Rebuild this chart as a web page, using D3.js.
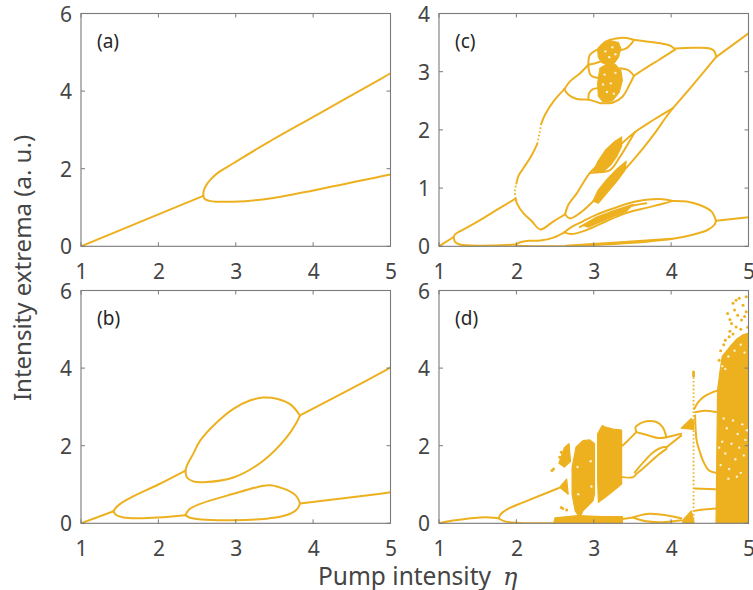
<!DOCTYPE html>
<html>
<head>
<meta charset="utf-8">
<script src="https://cdn.jsdelivr.net/npm/d3@7"></script>
<style>
  html, body { margin: 0; padding: 0; background: #fff; }
  svg { display: block; }
</style>
</head>
<body>
<svg id="fig" width="753" height="590"></svg>
<script>
// ---------- axis values ----------
const etaTicks = [1, 2, 3, 4, 5];
const yTicksSix = [0, 2, 4, 6];
const yTicksFour = [0, 1, 2, 3, 4];
const panelTags = ["(a)", "(b)", "(c)", "(d)"];

// ---------- (a) period-one then period-two ----------
const aBranches = [
  [[1.00, 0.00], [2.58, 1.30]],
  [[2.58, 1.30], [2.585, 1.42], [2.62, 1.58], [2.68, 1.73], [2.76, 1.88], [2.97, 2.14], [3.40, 2.66], [4.05, 3.39], [4.87, 4.31], [5.00, 4.46]],
  [[2.58, 1.30], [2.60, 1.22], [2.66, 1.17], [2.76, 1.15], [2.97, 1.15], [3.40, 1.22], [4.05, 1.46], [4.87, 1.80], [5.00, 1.85]]
];

// ---------- (b) doubling cascade and merging ----------
const bBranches = [
  [[1.00, 0.00], [1.42, 0.31]],
  [[1.42, 0.31], [1.45, 0.40], [1.52, 0.52], [1.65, 0.67], [2.00, 1.00], [2.35, 1.36]],
  [[1.42, 0.31], [1.45, 0.22], [1.55, 0.15], [1.75, 0.13], [2.00, 0.15], [2.35, 0.21]],
  [[2.35, 1.36], [2.37, 1.49], [2.45, 1.79], [2.54, 2.13], [2.76, 2.61], [2.97, 2.95], [3.19, 3.17], [3.36, 3.24], [3.53, 3.21], [3.71, 3.06], [3.83, 2.78]],
  [[2.35, 1.36], [2.37, 1.18], [2.45, 1.08], [2.58, 1.06], [2.97, 1.18], [3.36, 1.62], [3.66, 2.22], [3.79, 2.61], [3.83, 2.78]],
  [[3.83, 2.78], [4.87, 3.87], [5.00, 4.02]],
  [[2.35, 0.21], [2.40, 0.36], [2.54, 0.50], [2.97, 0.76], [3.36, 0.97], [3.45, 0.98], [3.53, 0.95], [3.66, 0.86], [3.75, 0.76], [3.80, 0.65], [3.83, 0.51]],
  [[2.35, 0.21], [2.40, 0.15], [2.55, 0.10], [2.97, 0.08], [3.40, 0.12], [3.60, 0.18], [3.72, 0.26], [3.80, 0.38], [3.83, 0.51]],
  [[3.83, 0.51], [4.87, 0.76], [5.00, 0.80]]
];

// ---------- (c) branches ----------
const cBranches = [
  [[1.00, 0.00], [1.19, 0.16]],
  [[1.19, 0.16], [1.21, 0.21], [1.36, 0.32], [1.53, 0.45], [1.74, 0.62], [1.99, 0.82]],
  [[1.19, 0.16], [1.21, 0.07], [1.27, 0.03], [1.53, 0.01], [1.99, 0.03]],
  [[1.99, 0.03], [2.05, 0.07], [2.17, 0.095], [2.31, 0.10], [2.48, 0.15], [2.62, 0.24]],
  [[2.62, 0.24], [2.71, 0.33], [2.86, 0.43], [3.03, 0.54], [3.25, 0.65], [3.51, 0.76], [3.68, 0.80], [3.89, 0.81], [4.02, 0.78]],
  [[2.62, 0.24], [2.71, 0.21], [2.91, 0.28], [3.16, 0.43], [3.42, 0.57], [3.68, 0.66], [3.89, 0.73], [4.02, 0.78]],
  [[2.82, 0.33], [3.03, 0.47], [3.25, 0.58], [3.51, 0.70], [3.68, 0.74]],
  [[4.02, 0.78], [4.20, 0.77], [4.37, 0.71], [4.52, 0.60], [4.58, 0.44]],
  [[1.99, 0.01], [2.39, 0.00], [2.82, 0.01], [3.25, 0.04], [3.68, 0.08], [4.02, 0.13], [4.28, 0.20], [4.47, 0.28], [4.56, 0.37], [4.58, 0.44]],
  [[2.64, 0.01], [3.25, 0.06], [3.68, 0.10], [4.02, 0.13]],
  [[4.58, 0.44], [5.00, 0.50]],
  [[1.99, 0.82], [2.01, 0.73], [2.09, 0.57], [2.20, 0.43], [2.31, 0.29], [2.48, 0.43], [2.63, 0.55]],
  [[2.63, 0.55], [2.67, 0.71], [2.78, 0.91], [2.95, 1.26], [3.08, 1.43], [3.25, 1.63], [3.53, 1.96], [3.77, 2.17], [4.02, 2.37]],
  [[2.63, 0.55], [2.69, 0.48], [2.82, 0.57], [2.99, 0.77], [3.25, 1.11], [3.51, 1.48], [3.77, 1.91], [3.94, 2.23], [4.02, 2.37]],
  [[2.95, 1.26], [3.03, 1.27], [3.21, 1.31], [3.34, 1.54], [3.53, 1.96]],
  [[2.00, 1.08], [2.03, 1.22], [2.09, 1.34], [2.20, 1.57], [2.27, 1.76]],
  [[2.32, 2.10], [2.37, 2.26], [2.48, 2.49], [2.62, 2.70]],
  [[2.62, 2.70], [2.69, 2.83], [2.82, 2.97], [2.93, 3.12]],
  [[2.62, 2.70], [2.67, 2.61], [2.78, 2.53], [2.93, 2.52], [3.08, 2.46]],
  [[2.93, 2.52], [2.94, 2.63], [2.99, 2.70], [3.08, 2.72]],
  [[2.93, 3.12], [2.96, 2.94], [3.06, 2.89]],
  [[2.93, 3.12], [2.95, 3.29], [3.03, 3.37], [3.10, 3.40]],
  [[2.93, 3.12], [3.01, 3.14], [3.08, 3.17]],
  [[3.06, 3.40], [3.16, 3.52], [3.29, 3.57], [3.42, 3.58], [3.51, 3.55]],
  [[3.34, 3.37], [3.42, 3.40], [3.51, 3.52]],
  [[3.51, 3.55], [3.68, 3.52], [3.89, 3.48], [4.00, 3.44], [4.05, 3.38]],
  [[3.52, 2.93], [3.68, 3.07], [3.85, 3.21], [3.98, 3.32], [4.05, 3.38]],
  [[3.08, 2.46], [3.25, 2.47], [3.37, 2.57], [3.46, 2.77], [3.52, 2.93]],
  [[3.34, 3.06], [3.44, 3.03], [3.52, 2.93]],
  [[4.05, 3.40], [4.28, 3.41], [4.50, 3.40], [4.56, 3.35], [4.58, 3.26]],
  [[4.02, 2.37], [4.28, 2.77], [4.58, 3.25]],
  [[4.58, 3.25], [5.00, 3.66]]
];
const cDotted = [
  [[1.99, 0.82], [1.98, 0.94], [2.00, 1.08]],
  [[2.27, 1.76], [2.30, 1.95], [2.32, 2.10]]
];
const cChaos = [
  [[2.86, 0.36], [3.03, 0.50], [3.25, 0.61], [3.51, 0.72], [3.42, 0.60], [3.16, 0.46], [2.93, 0.33]],
  [[2.99, 1.27], [3.05, 1.45], [3.15, 1.65], [3.27, 1.80], [3.36, 1.88], [3.36, 1.72], [3.30, 1.55], [3.22, 1.40], [3.12, 1.28]],
  [[2.99, 0.78], [3.06, 0.97], [3.17, 1.15], [3.30, 1.33], [3.42, 1.46], [3.40, 1.30], [3.30, 1.12], [3.18, 0.93], [3.06, 0.74]],
  [[3.05, 3.38], [3.12, 3.48], [3.22, 3.53], [3.32, 3.50], [3.35, 3.40], [3.32, 3.25], [3.26, 3.14], [3.18, 3.12], [3.10, 3.16], [3.06, 3.25]],
  [[3.08, 3.06], [3.18, 3.14], [3.28, 3.12], [3.35, 3.02], [3.37, 2.85], [3.33, 2.65], [3.24, 2.50], [3.12, 2.48], [3.06, 2.58], [3.05, 2.80]]
];
// empty specks inside the chaotic lobes of (c)
const cGaps = [
  [3.15, 3.35], [3.24, 3.42], [3.20, 3.25], [3.28, 3.30],
  [3.14, 2.95], [3.22, 2.80], [3.28, 2.98], [3.17, 2.65], [3.26, 2.62], [3.12, 2.78]
];

// ---------- (d) branches, chaotic bands, scattered extrema ----------
const dBranches = [
  [[1.00, 0.00], [1.18, 0.07], [1.36, 0.12], [1.53, 0.15], [1.66, 0.15], [1.77, 0.13]],
  [[1.77, 0.13], [1.80, 0.24], [1.89, 0.37], [2.09, 0.54], [2.30, 0.71], [2.55, 0.91]],
  [[1.77, 0.13], [1.85, 0.05], [2.05, 0.01], [2.30, 0.00], [2.52, 0.00]],
  [[3.37, 2.00], [3.44, 2.13], [3.55, 2.35]],
  [[3.55, 2.35], [3.54, 2.48], [3.59, 2.56], [3.68, 2.63], [3.81, 2.61], [3.89, 2.48], [3.94, 2.22]],
  [[3.55, 2.35], [3.68, 2.28], [3.83, 2.20], [3.94, 2.22]],
  [[3.94, 2.22], [4.13, 2.31]],
  [[3.94, 1.96], [4.13, 2.26]],
  [[3.53, 1.31], [3.64, 1.57], [3.77, 1.83], [3.89, 1.96], [3.94, 1.96]],
  [[3.55, 1.27], [3.68, 1.49], [3.85, 1.79], [3.94, 1.92]],
  [[3.37, 1.19], [3.51, 1.19], [3.55, 1.27]],
  [[3.37, 0.11], [3.51, 0.15]],
  [[3.51, 0.15], [3.68, 0.24], [3.89, 0.22], [4.13, 0.13]],
  [[3.51, 0.15], [3.68, 0.05], [3.89, 0.03], [4.13, 0.08]],
  [[4.30, 2.95], [4.35, 3.12], [4.43, 3.27], [4.54, 3.38], [4.60, 3.42]],
  [[4.31, 2.86], [4.43, 2.90], [4.58, 2.87]],
  [[4.31, 2.78], [4.33, 2.13], [4.37, 1.85], [4.41, 1.62], [4.49, 1.36], [4.58, 1.30]],
  [[4.30, 0.90], [4.58, 0.88]],
  [[4.30, 0.32], [4.45, 0.36], [4.58, 0.38]]
];
const dDotted = [
  [[4.29, 0.10], [4.29, 3.90]]
];
const dChaos = [
  [[2.55, 1.55], [2.62, 1.95], [2.68, 2.05], [2.70, 1.60], [2.62, 1.45]],
  [[2.56, 0.93], [2.65, 1.14], [2.67, 0.75]],
  [[2.48, 0.00], [2.50, 0.14], [2.80, 0.20], [3.10, 0.17], [3.37, 0.17], [3.37, 0.00]],
  [[2.72, 1.44], [2.77, 1.96], [2.86, 2.13], [2.95, 2.15], [3.01, 2.05], [3.01, 1.44], [3.01, 0.75], [2.99, 0.58], [2.86, 0.32], [2.82, 0.15], [2.76, 0.32], [2.72, 0.75]],
  [[3.05, 2.31], [3.11, 2.52], [3.15, 2.48], [3.25, 2.43], [3.36, 2.40], [3.36, 1.01], [3.31, 0.93], [3.15, 0.67], [3.06, 0.54], [3.05, 1.10]],
  [[4.13, 2.45], [4.26, 2.70], [4.29, 2.62], [4.29, 2.42]],
  [[4.15, 0.00], [4.15, 0.08], [4.26, 0.32], [4.30, 0.00]],
  [[4.60, 3.43], [4.63, 3.90], [4.66, 4.30], [4.72, 4.45], [4.78, 4.60], [4.85, 4.75], [4.92, 4.85], [5.00, 4.90], [5.00, 0.00], [4.58, 0.00]]
];
const dScatter = [
  [2.46, 1.36], [2.48, 1.40], [2.56, 1.70], [2.58, 1.83], [2.60, 1.57], [2.65, 1.96], [2.67, 2.00], [2.62, 1.75],
  [2.58, 0.41], [2.65, 0.34], [2.60, 0.38],
  [4.73, 5.41], [4.80, 5.67], [4.84, 5.75], [4.88, 5.80], [4.93, 5.62], [4.97, 5.84], [4.78, 5.15], [4.84, 5.06],
  [4.75, 4.81], [4.95, 5.33], [4.82, 5.50], [4.91, 5.24], [4.97, 5.45], [4.76, 5.25], [4.86, 5.36],
  [4.64, 4.45], [4.68, 4.60], [4.70, 4.72], [4.62, 4.20], [4.76, 4.95], [4.80, 4.88], [4.90, 5.00], [4.99, 5.05],
  [4.29, 3.90], [4.29, 3.85], [4.29, 3.80]
];
// empty specks inside the dense chaotic bands
const dGaps = [
  [2.80, 0.75], [2.79, 1.45], [2.97, 0.95], [2.96, 1.60],
  [4.64, 1.50], [4.66, 2.10], [4.70, 1.80], [4.72, 2.45], [4.75, 1.40], [4.78, 2.05], [4.80, 2.65],
  [4.83, 1.65], [4.86, 2.30], [4.88, 1.95], [4.90, 1.30], [4.92, 2.55], [4.94, 1.75], [4.96, 2.15],
  [4.68, 2.70], [4.85, 1.20], [4.62, 1.95], [4.74, 1.15], [4.98, 2.40],
  [4.66, 4.05], [4.74, 4.30], [4.82, 4.45], [4.90, 4.60], [4.70, 3.98], [4.95, 4.40]
];

// ---------- drawing ----------
const ORANGE = "#EDB120";
const AXIS = "#7a7a7a";
const TEXT = "#454545";
const FONT = "'Noto Sans', 'Open Sans', sans-serif";

const svg = d3.select("#fig");

const panels = [
  { tag: panelTags[0], left: 81, top: 13.5, yMax: 6, yTicks: yTicksSix, lines: aBranches, dotted: [], chaos: [], dots: [], gaps: [] },
  { tag: panelTags[1], left: 81, top: 290.5, yMax: 6, yTicks: yTicksSix, lines: bBranches, dotted: [], chaos: [], dots: [], gaps: [] },
  { tag: panelTags[2], left: 439, top: 13.5, yMax: 4, yTicks: yTicksFour, lines: cBranches, dotted: cDotted, chaos: cChaos, dots: [], gaps: cGaps },
  { tag: panelTags[3], left: 439, top: 290.5, yMax: 6, yTicks: yTicksSix, lines: dBranches, dotted: dDotted, chaos: dChaos, dots: dScatter, gaps: dGaps }
];
const W = 309.5, H = 232.8;

panels.forEach((p, i) => {
  const x = d3.scaleLinear().domain([1, 5]).range([p.left, p.left + W]);
  const y = d3.scaleLinear().domain([0, p.yMax]).range([p.top + H, p.top]);
  const g = svg.append("g");

  const clipId = "clip" + i;
  svg.append("clipPath").attr("id", clipId)
    .append("rect").attr("x", p.left).attr("y", p.top).attr("width", W).attr("height", H);

  const plot = g.append("g").attr("clip-path", `url(#${clipId})`);

  const curve = d3.line().x(d => x(d[0])).y(d => y(d[1])).curve(d3.curveCatmullRom.alpha(0.5));
  const poly = d3.line().x(d => x(d[0])).y(d => y(d[1])).curve(d3.curveLinearClosed);

  plot.selectAll("path.chaos").data(p.chaos).join("path")
    .attr("class", "chaos")
    .attr("d", poly)
    .attr("fill", ORANGE)
    .attr("stroke", ORANGE)
    .attr("stroke-width", 1.2)
    .attr("stroke-linejoin", "round");

  plot.selectAll("circle.gap").data(p.gaps).join("circle")
    .attr("class", "gap")
    .attr("cx", d => x(d[0])).attr("cy", d => y(d[1]))
    .attr("r", 1.2).attr("fill", "#fff").attr("fill-opacity", 0.8);

  plot.selectAll("path.branch").data(p.lines).join("path")
    .attr("class", "branch")
    .attr("d", curve)
    .attr("fill", "none")
    .attr("stroke", ORANGE)
    .attr("stroke-width", 2)
    .attr("stroke-linecap", "round")
    .attr("stroke-linejoin", "round");

  plot.selectAll("path.dotted").data(p.dotted).join("path")
    .attr("class", "dotted")
    .attr("d", curve)
    .attr("fill", "none")
    .attr("stroke", ORANGE)
    .attr("stroke-width", 1.8)
    .attr("stroke-dasharray", "1.6,2.2");

  plot.selectAll("circle.pt").data(p.dots).join("circle")
    .attr("class", "pt")
    .attr("cx", d => x(d[0])).attr("cy", d => y(d[1]))
    .attr("r", 1.5).attr("fill", ORANGE);

  // axes: bottom / left carry labels, top / right mirror the ticks
  const tickLen = 4;
  const axisBottom = d3.axisBottom(x).tickValues(etaTicks).tickSize(0).tickPadding(0).tickFormat(d3.format("d"));
  const axisLeft = d3.axisLeft(y).tickValues(p.yTicks).tickSize(0).tickFormat(d3.format("d"));

  const gb = g.append("g").attr("transform", `translate(0,${p.top + H})`).call(axisBottom);
  gb.select(".domain").remove();
  gb.selectAll("text").attr("y", 33).attr("dy", null)
    .attr("fill", TEXT).style("font-family", FONT).style("font-size", "21px");

  const gl = g.append("g").attr("transform", `translate(${p.left},0)`).call(axisLeft);
  gl.select(".domain").remove();
  gl.selectAll("text").attr("x", -9).attr("dy", "0.36em")
    .attr("fill", TEXT).style("font-family", FONT).style("font-size", "21px");

  g.append("rect")
    .attr("x", p.left).attr("y", p.top).attr("width", W).attr("height", H)
    .attr("fill", "none").attr("stroke", AXIS).attr("stroke-width", 1.1);

  etaTicks.forEach(t => {
    g.append("line").attr("x1", x(t)).attr("x2", x(t))
      .attr("y1", p.top + H).attr("y2", p.top + H - tickLen).attr("stroke", AXIS);
    g.append("line").attr("x1", x(t)).attr("x2", x(t))
      .attr("y1", p.top).attr("y2", p.top + tickLen).attr("stroke", AXIS);
  });
  p.yTicks.forEach(t => {
    g.append("line").attr("x1", p.left).attr("x2", p.left + tickLen)
      .attr("y1", y(t)).attr("y2", y(t)).attr("stroke", AXIS);
    g.append("line").attr("x1", p.left + W).attr("x2", p.left + W - tickLen)
      .attr("y1", y(t)).attr("y2", y(t)).attr("stroke", AXIS);
  });

  g.append("text")
    .attr("x", p.left + 16).attr("y", p.top + 34.5)
    .attr("fill", "#262626")
    .style("font-family", FONT).style("font-size", "19px")
    .text(p.tag);
});

// shared axis titles
svg.append("text")
  .attr("transform", "translate(31,268) rotate(-90)")
  .attr("text-anchor", "middle")
  .attr("fill", TEXT)
  .style("font-family", FONT).style("font-size", "24px")
  .text("Intensity extrema (a. u.)");

const xt = svg.append("text")
  .attr("x", 318).attr("y", 585)
  .attr("fill", TEXT)
  .style("font-family", FONT).style("font-size", "24.5px");
xt.append("tspan").text("Pump intensity");
xt.append("tspan")
  .attr("dx", 12)
  .style("font-family", "'DejaVu Serif', 'Liberation Serif', serif")
  .style("font-style", "italic")
  .style("font-size", "24px")
  .text("η");
</script>
</body>
</html>
